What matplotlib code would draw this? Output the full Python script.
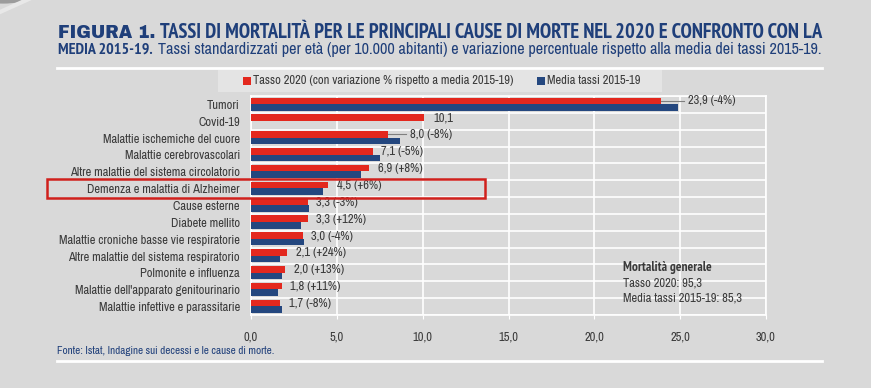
import matplotlib
matplotlib.use('Agg')
import matplotlib.pyplot as plt
import matplotlib.patches as mpatches
import matplotlib.ticker as ticker
import numpy as np

#------------------------------------------------------------------------------
# DATA
cause = ['Tumori', 'Covid-19', 'Malattie ischemiche del cuore', 'Malattie cerebrovascolari',
         'Altre malattie del sistema circolatorio', 'Demenza e malattia di Alzheimer',
         'Cause esterne', 'Diabete mellito', 'Malattie croniche basse vie respiratorie',
         'Altre malattie del sistema respiratorio', 'Polmonite e influenza',
         "Malattie dell'apparato genitourinario", 'Malattie infettive e parassitarie']
tasso_2020 = [23.9, 10.1, 8.0, 7.1, 6.9, 4.5, 3.3, 3.3, 3.0, 2.1, 2.0, 1.8, 1.7]
media_1519 = [24.9, 0.0, 8.7, 7.5, 6.4, 4.2, 3.4, 2.9, 3.1, 1.7, 1.8, 1.6, 1.8]
var_pct = ['-4%', None, '-8%', '-5%', '+8%', '+6%', '-3%', '+12%', '-4%', '+24%', '+13%', '+11%', '-8%']
leader = [True, False, True, False, False, False, False, False, False, False, False, False, False]
xticks = [0, 5, 10, 15, 20, 25, 30]

#------------------------------------------------------------------------------
# STYLE
BG = '#d9d9d9'
RED = '#e3281e'
BLUE = '#24477f'
NAVY = '#1f3f7a'
TXT = '#3a3a3a'
NARROW = ['Archivo Narrow', 'DejaVu Sans']
NARROW_B = ['PT Sans Narrow', 'DejaVu Sans']

W, H = 871, 388
fig = plt.figure(figsize=(W / 100, H / 100), dpi=100, facecolor=BG)

def fx(px):
    return px / W

def fy(py):
    return 1 - py / H

#------------------------------------------------------------------------------
# HEADER
renderer = fig.canvas.get_renderer()

def line_of_text(pieces, x0, y0, right=None):
    # pieces: list of (text, family, weight, size, colour); last piece stretched to 'right'
    x = x0
    for k, (s, fam, wt, size, col) in enumerate(pieces):
        t = fig.text(fx(x), fy(y0), s, family=fam, weight=wt, fontsize=size, color=col,
                     va='baseline', ha='left')
        bb = t.get_window_extent(renderer)
        if right is not None and k == len(pieces) - 1:
            t.set_fontsize(size * (right - x) / bb.width)
            bb = t.get_window_extent(renderer)
        x = x + bb.width + 5

line_of_text([('FIGURA 1.', ['Archivo Black', 'DejaVu Sans'], 'normal', 12.5, NAVY),
              ('TASSI DI MORTALITÀ PER LE PRINCIPALI CAUSE DI MORTE NEL 2020 E CONFRONTO CON LA',
               NARROW_B, 'bold', 11, NAVY)], 58, 38, right=822)
line_of_text([('MEDIA 2015-19.', NARROW_B, 'bold', 11.5, NAVY),
              ('Tassi standardizzati per età (per 10.000 abitanti) e variazione percentuale rispetto alla media dei tassi 2015-19.',
               NARROW, 'normal', 11, NAVY)], 58, 54, right=822)

# decorative circle top-left
fig.add_artist(mpatches.Circle((fx(3), fy(-16)), fx(44), transform=fig.transFigure,
                               facecolor='#9c9c9c', edgecolor='none'))
fig.add_artist(plt.Line2D([fx(0), fx(40)], [fy(12), fy(-6)], transform=fig.transFigure,
                          color='#e8e8e8', lw=3))

# white separator lines
fig.add_artist(plt.Line2D([fx(57), fx(822)], [fy(68), fy(68)], transform=fig.transFigure,
                          color='white', lw=2))
fig.add_artist(plt.Line2D([fx(57), fx(822)], [fy(361), fy(361)], transform=fig.transFigure,
                          color='white', lw=2))

#------------------------------------------------------------------------------
# LEGEND BOX
fig.add_artist(mpatches.Rectangle((fx(218), fy(92)), fx(662) - fx(218), fy(70) - fy(92),
                                  transform=fig.transFigure, facecolor='#e4e4e4', edgecolor='none'))
fig.add_artist(mpatches.Rectangle((fx(243), fy(85)), fx(8), fy(77) - fy(85),
                                  transform=fig.transFigure, facecolor=RED, edgecolor='none'))
fig.text(fx(253), fy(81), 'Tasso 2020 (con variazione % rispetto a media 2015-19)', family=NARROW,
         fontsize=9, color=TXT, va='center')
fig.add_artist(mpatches.Rectangle((fx(537), fy(85)), fx(8), fy(77) - fy(85),
                                  transform=fig.transFigure, facecolor=BLUE, edgecolor='none'))
fig.text(fx(547), fy(81), 'Media tassi 2015-19', family=NARROW, fontsize=9, color=TXT, va='center')

#------------------------------------------------------------------------------
# BAR CHART
ax = fig.add_axes([fx(251), fy(315), fx(766) - fx(251), fy(96) - fy(315)])
ax.set_facecolor(BG)

y = np.arange(len(cause))
bh = 0.39
ax.barh(y - bh / 2 - 0.02, tasso_2020, height=bh, color=RED, zorder=3)
ax.barh(y + bh / 2 - 0.02, media_1519, height=bh, color=BLUE, zorder=3)

for i in range(len(cause)):
    r = tasso_2020[i]
    lab = ('%.1f' % r).replace('.', ',')
    if var_pct[i] is not None:
        lab = lab + ' (' + var_pct[i] + ')'
    yl = y[i] - bh / 2 + 0.01
    if leader[i]:
        xe = max(r, media_1519[i]) + 0.35
        ax.plot([r, xe], [y[i] - bh / 2 - 0.02] * 2, color='#7f7f7f', lw=0.8, zorder=4)
        ax.text(xe + 0.2, yl - 0.04, lab, family=NARROW, fontsize=9, color=TXT, va='center', zorder=5)
    else:
        ax.text(r + 0.5, yl, lab, family=NARROW, fontsize=9, color=TXT, va='center', zorder=5)

ax.set_xlim(0, 30)
ax.set_ylim(len(cause) - 0.5, -0.5)
ax.set_xticks(xticks)
ax.set_xticklabels([('%.1f' % v).replace('.', ',') for v in xticks], family=NARROW,
                   fontsize=9, color=TXT)
ax.set_yticks(y)
ax.set_yticklabels(cause, family=NARROW, fontsize=9, color=TXT)
ax.yaxis.set_minor_locator(ticker.FixedLocator(np.arange(-0.5, len(cause), 1)))
ax.grid(True, axis='x', which='major', color='white', lw=1.2, zorder=1)
ax.grid(True, axis='y', which='minor', color='white', lw=1.2, zorder=1)
ax.tick_params(axis='y', which='both', length=0, pad=8)
ax.tick_params(axis='x', length=3, color='white', pad=9)
for sp in ax.spines.values():
    sp.set_color('white')
    sp.set_linewidth(1.2)

# general mortality note
fig.text(fx(623), fy(268), 'Mortalità generale', family=NARROW_B, weight='bold', fontsize=9.5,
         color=TXT, va='center')
fig.text(fx(623), fy(283), 'Tasso 2020: 95,3', family=NARROW, fontsize=9, color=TXT, va='center')
fig.text(fx(623), fy(298), 'Media tassi 2015-19: 85,3', family=NARROW, fontsize=9, color=TXT,
         va='center')

# highlight box
fig.add_artist(mpatches.Rectangle((fx(47), fy(198)), fx(485) - fx(47), fy(179) - fy(198),
                                  transform=fig.transFigure, fill=False, edgecolor='#d0201c', lw=1.8))

fig.text(fx(57), fy(351), 'Fonte: Istat, Indagine sui decessi e le cause di morte.', family=NARROW,
         fontsize=8, color=NAVY, va='center')

fig.savefig('out.png', dpi=100, facecolor=BG)
